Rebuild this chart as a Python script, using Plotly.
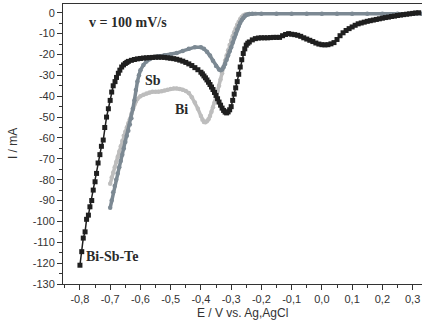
import plotly.graph_objects as go

# Linear sweep voltammograms, scan rate 100 mV/s
# Bi-Sb-Te deposition bath
E_bst = [-0.800, -0.794, -0.789, -0.783, -0.778, -0.772, -0.767, -0.761, -0.756, -0.750,
         -0.745, -0.740, -0.734, -0.729, -0.723, -0.718, -0.712, -0.706, -0.700, -0.695,
         -0.690, -0.684, -0.679, -0.673, -0.668, -0.662, -0.656, -0.650, -0.645, -0.640,
         -0.630, -0.620, -0.610, -0.600, -0.590, -0.580, -0.570, -0.560, -0.550, -0.540,
         -0.530, -0.520, -0.510, -0.500, -0.490, -0.480, -0.470, -0.460, -0.450, -0.440,
         -0.430, -0.420, -0.410, -0.400, -0.395, -0.390, -0.385, -0.380, -0.375, -0.370,
         -0.365, -0.360, -0.355, -0.350, -0.345, -0.340, -0.335, -0.330, -0.325, -0.320,
         -0.315, -0.310, -0.305, -0.300, -0.295, -0.290, -0.285, -0.280, -0.275, -0.270,
         -0.265, -0.260, -0.255, -0.250, -0.245, -0.240, -0.230, -0.220, -0.210, -0.200,
         -0.190, -0.180, -0.170, -0.160, -0.150, -0.140, -0.130, -0.120, -0.110, -0.100,
         -0.090, -0.080, -0.070, -0.060, -0.050, -0.040, -0.030, -0.020, -0.010, 0.000,
         0.010, 0.020, 0.030, 0.040, 0.050, 0.060, 0.070, 0.080, 0.090, 0.100,
         0.110, 0.120, 0.130, 0.140, 0.150, 0.160, 0.170, 0.180, 0.190, 0.200,
         0.210, 0.220, 0.230, 0.240, 0.250, 0.260, 0.270, 0.280, 0.290, 0.300,
         0.310, 0.320]
I_bst = [-121.0, -114.5, -108.0, -105.0, -99.0, -97.0, -93.0, -90.0, -85.0, -81.0,
         -77.0, -72.0, -68.0, -64.0, -61.0, -55.0, -50.0, -46.0, -42.0, -38.0,
         -35.0, -33.0, -31.0, -29.0, -27.5, -26.0, -25.0, -24.3, -23.8, -23.3,
         -22.8, -22.4, -22.1, -21.9, -21.7, -21.6, -21.5, -21.4, -21.3, -21.3,
         -21.3, -21.4, -21.6, -21.8, -22.0, -22.3, -22.7, -23.2, -23.8, -24.5,
         -25.3, -26.3, -27.3, -28.5, -29.3, -30.3, -31.2, -32.2, -33.3, -34.4,
         -35.6, -36.8, -38.2, -39.6, -41.2, -42.8, -44.3, -45.7, -46.8, -47.6,
         -48.0, -47.5, -46.5, -45.0, -42.0, -39.0, -36.0, -33.0, -29.5, -26.0,
         -22.5, -19.5, -17.3, -15.5, -14.6, -14.0, -13.0, -12.4, -12.1, -12.0,
         -12.0, -12.0, -11.9, -11.8, -11.8, -11.8, -11.0, -10.4, -10.0, -10.3,
         -10.5, -10.8, -11.3, -12.0, -12.6, -13.2, -13.8, -14.5, -15.0, -15.3,
         -15.4, -15.3, -14.9, -14.3, -12.8, -11.0, -9.6, -8.5, -7.6, -6.8,
         -6.0, -5.3, -4.9, -4.5, -4.1, -3.8, -3.5, -3.2, -2.9, -2.6,
         -2.3, -2.1, -1.8, -1.6, -1.3, -1.1, -0.9, -0.7, -0.5, -0.3,
         -0.1, 0.0]

# Sb bath
E_sb = [-0.700, -0.695, -0.690, -0.685, -0.680, -0.675, -0.670, -0.665, -0.660, -0.655,
        -0.650, -0.645, -0.640, -0.635, -0.630, -0.625, -0.620, -0.615, -0.610, -0.605,
        -0.600, -0.590, -0.580, -0.570, -0.560, -0.550, -0.540, -0.520, -0.500, -0.480,
        -0.460, -0.440, -0.420, -0.400, -0.390, -0.380, -0.370, -0.360, -0.350, -0.340,
        -0.335, -0.330, -0.325, -0.320, -0.315, -0.310, -0.305, -0.300, -0.295, -0.290,
        -0.285, -0.280, -0.275, -0.270, -0.265, -0.260, -0.255, -0.250, -0.245, -0.240,
        -0.230, -0.200, -0.150, -0.100, -0.050, 0.000, 0.050, 0.100, 0.150, 0.200,
        0.250, 0.300, 0.330]
I_sb = [-93.5, -90.0, -86.0, -83.0, -80.0, -77.0, -74.0, -71.0, -68.0, -65.0,
        -62.0, -59.0, -56.5, -53.5, -50.5, -46.0, -42.0, -37.0, -33.0, -30.0,
        -27.5, -25.0, -23.3, -22.3, -21.6, -21.1, -20.8, -20.4, -20.0, -19.3,
        -18.3, -17.2, -16.5, -16.5, -17.3, -18.7, -20.5, -23.0, -25.5, -27.2,
        -27.5, -27.2, -26.0, -24.5, -22.5, -20.5, -18.5, -16.5, -14.3, -12.0,
        -10.0, -8.0, -6.3, -4.8, -3.5, -2.5, -1.6, -1.1, -0.8, -0.6,
        -0.5, -0.5, -0.5, -0.5, -0.5, -0.5, -0.5, -0.5, -0.5, -0.5,
        -0.5, -0.5, -0.5]

# Bi bath
E_bi = [-0.700, -0.695, -0.690, -0.685, -0.680, -0.675, -0.670, -0.665, -0.660, -0.655,
        -0.650, -0.645, -0.640, -0.635, -0.630, -0.625, -0.620, -0.615, -0.610, -0.600,
        -0.590, -0.580, -0.570, -0.560, -0.550, -0.540, -0.530, -0.520, -0.510, -0.500,
        -0.490, -0.480, -0.470, -0.460, -0.450, -0.440, -0.430, -0.420, -0.410, -0.400,
        -0.395, -0.390, -0.385, -0.380, -0.375, -0.370, -0.365, -0.360, -0.355, -0.350,
        -0.345, -0.340, -0.335, -0.330, -0.325, -0.320, -0.315, -0.310, -0.305, -0.300,
        -0.295, -0.290, -0.285, -0.280, -0.275, -0.270, -0.265, -0.260, -0.255, -0.250,
        -0.240, -0.220]
I_bi = [-82.0, -79.0, -76.5, -74.0, -71.5, -69.0, -66.5, -64.0, -61.5, -59.0,
        -57.0, -55.0, -53.0, -51.0, -48.5, -46.0, -44.0, -42.5, -41.3, -40.0,
        -39.3, -38.7, -38.2, -37.9, -37.8, -37.8, -37.6, -37.3, -36.9, -36.5,
        -36.3, -36.3, -36.5, -36.9, -37.5, -38.5, -40.5, -43.0, -46.0, -49.5,
        -51.3, -52.3, -52.5, -52.0, -51.0, -49.5, -47.5, -45.3, -43.0, -40.5,
        -37.5, -35.0, -32.0, -29.0, -26.0, -23.0, -20.5, -18.0, -15.5, -13.3,
        -11.3, -9.3, -7.5, -5.8, -4.3, -3.0, -2.0, -1.3, -0.9, -0.7,
        -0.6, -0.5]

x_ticks = [-0.8, -0.7, -0.6, -0.5, -0.4, -0.3, -0.2, -0.1, 0.0, 0.1, 0.2, 0.3]
x_tick_labels = ["-0,8", "-0,7", "-0,6", "-0,5", "-0,4", "-0,3", "-0,2", "-0,1",
                 "0,0", "0,1", "0,2", "0,3"]
y_ticks = [0, -10, -20, -30, -40, -50, -60, -70, -80, -90, -100, -110, -120, -130]
y_tick_labels = ["0", "-10", "-20", "-30", "-40", "-50", "-60", "-70", "-80", "-90",
                 "-100", "-110", "-120", "-130"]

fig = go.Figure()

fig.add_trace(go.Scatter(
    x=E_bi, y=I_bi, mode="lines+markers",
    line=dict(color="#bdbdbd", width=3.5),
    marker=dict(symbol="circle", size=4.5, color="#bdbdbd"),
    name="Bi", showlegend=False))
fig.add_trace(go.Scatter(
    x=E_sb, y=I_sb, mode="lines+markers",
    line=dict(color="#7c8993", width=3.5),
    marker=dict(symbol="circle", size=4.5, color="#7c8993"),
    name="Sb", showlegend=False))
fig.add_trace(go.Scatter(
    x=E_bst, y=I_bst, mode="lines+markers",
    line=dict(color="#1f1f1f", width=1.5),
    marker=dict(symbol="square", size=5, color="#1f1f1f"),
    name="Bi-Sb-Te", showlegend=False))

serif_bold = dict(family="Liberation Serif", size=14, color="#2a2a2a")
labels = [
    ("<b>v = 100 mV/s</b>", -0.64, -4.8),
    ("<b>Sb</b>", -0.559, -32.5),
    ("<b>Bi</b>", -0.464, -46.5),
    ("<b>Bi-Sb-Te</b>", -0.694, -117.0),
]
for text, xv, yv in labels:
    fig.add_annotation(x=xv, y=yv, text=text, showarrow=False,
                       xanchor="center", yanchor="middle", font=serif_bold)

sans = dict(family="Liberation Sans", size=11, color="#333333")
fig.add_annotation(xref="paper", yref="paper", x=-0.139, y=0.5,
                   text="I / mA", textangle=-90, showarrow=False,
                   xanchor="center", yanchor="middle", font=dict(family="Liberation Sans", size=12, color="#333333"))
fig.add_annotation(xref="paper", yref="paper", x=0.5, y=-0.104,
                   text="E / V vs. Ag,AgCl", showarrow=False,
                   xanchor="center", yanchor="middle", font=dict(family="Liberation Sans", size=12, color="#333333"))

fig.update_layout(
    width=422, height=326,
    margin=dict(l=63, r=0, t=4, b=42),
    paper_bgcolor="white", plot_bgcolor="white",
    font=sans,
)
fig.update_xaxes(
    range=[-0.856, 0.331], showgrid=False, zeroline=False,
    showline=True, linecolor="#333333", linewidth=1, mirror=True,
    ticks="outside", ticklen=5, tickcolor="#333333",
    tickvals=x_ticks, ticktext=x_tick_labels, tickfont=sans,
    minor=dict(dtick=0.05, tick0=0, ticks="outside", ticklen=3, tickcolor="#333333", showgrid=False),
)
fig.update_yaxes(
    range=[-130, 4.2], showgrid=False, zeroline=False,
    showline=True, linecolor="#333333", linewidth=1, mirror=False,
    ticks="outside", ticklen=5, tickcolor="#333333",
    tickvals=y_ticks, ticktext=y_tick_labels, tickfont=sans,
    minor=dict(dtick=5, tick0=0, ticks="outside", ticklen=3, tickcolor="#333333", showgrid=False),
)

fig.write_html("out.html")
